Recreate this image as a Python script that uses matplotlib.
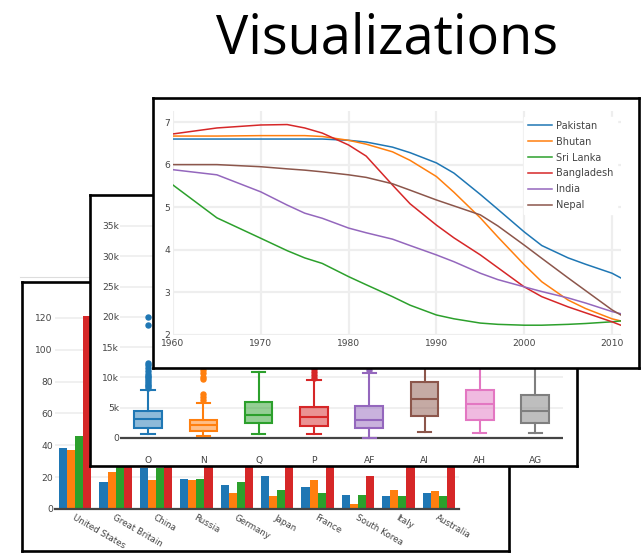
import matplotlib
matplotlib.use('Agg')
import matplotlib.pyplot as plt
from matplotlib.lines import Line2D

plt.rcParams['font.family'] = ['DejaVu Sans']

# ---- data: fertility rate (line chart) ----
years = [1960, 1965, 1970, 1973, 1975, 1977, 1980, 1982, 1985, 1987,
         1990, 1992, 1995, 1997, 2000, 2002, 2005, 2007, 2010, 2011]
pakistan = [6.60, 6.60, 6.60, 6.60, 6.60, 6.60, 6.57, 6.53, 6.41, 6.28,
            6.04, 5.80, 5.30, 4.95, 4.42, 4.10, 3.81, 3.66, 3.45, 3.34]
bhutan = [6.67, 6.67, 6.68, 6.68, 6.68, 6.66, 6.57, 6.48, 6.30, 6.10,
          5.72, 5.35, 4.75, 4.30, 3.65, 3.25, 2.82, 2.62, 2.38, 2.33]
sri_lanka = [5.52, 4.75, 4.27, 3.98, 3.81, 3.68, 3.37, 3.18, 2.90, 2.70,
             2.47, 2.38, 2.28, 2.25, 2.23, 2.23, 2.25, 2.27, 2.31, 2.33]
bangladesh = [6.72, 6.86, 6.93, 6.94, 6.86, 6.74, 6.46, 6.20, 5.52, 5.08,
              4.58, 4.28, 3.88, 3.58, 3.13, 2.90, 2.66, 2.52, 2.31, 2.23]
india = [5.88, 5.76, 5.36, 5.05, 4.86, 4.74, 4.51, 4.40, 4.25, 4.10,
         3.88, 3.72, 3.45, 3.30, 3.13, 3.02, 2.87, 2.75, 2.55, 2.50]
nepal = [6.00, 6.00, 5.95, 5.90, 5.87, 5.83, 5.76, 5.70, 5.55, 5.40,
         5.17, 5.03, 4.82, 4.56, 4.11, 3.80, 3.34, 3.04, 2.59, 2.47]
line_names = ['Pakistan', 'Bhutan', 'Sri Lanka', 'Bangladesh', 'India', 'Nepal']

# ---- data: box plot (values in thousands) ----
box_labels = ['O', 'N', 'Q', 'P', 'AF', 'AI', 'AH', 'AG']
box_low = [0.6, 0.3, 0.6, 0.6, 0.05, 1.0, 0.9, 0.9]
box_q1 = [1.7, 1.2, 2.4, 2.0, 1.6, 3.6, 3.0, 2.5]
box_med = [3.1, 2.1, 3.8, 3.4, 3.0, 6.5, 5.6, 4.5]
box_q3 = [4.45, 3.0, 6.0, 5.1, 5.2, 9.2, 8.0, 7.1]
box_high = [7.9, 5.7, 10.9, 9.5, 10.7, 14.5, 13.5, 12.5]
box_out = [
    [8.2, 8.5, 8.8, 9.1, 9.4, 9.7, 10.0, 10.3, 10.6, 11.0, 11.6, 12.0, 12.3, 18.6, 20.0],
    [6.2, 6.7, 7.2, 9.7, 10.0, 10.8, 11.2],
    [],
    [9.9, 10.4, 10.9, 11.4, 12.5, 14.0],
    [11.2, 12.0, 14.0],
    [], [], [],
]

# ---- data: medals (bar chart) ----
countries = ['United States', 'Great Britain', 'China', 'Russia', 'Germany',
             'Japan', 'France', 'South Korea', 'Italy', 'Australia']
bronze = [38, 17, 26, 19, 15, 21, 14, 9, 8, 10]
silver = [37, 23, 18, 18, 10, 8, 18, 3, 12, 11]
gold = [46, 27, 26, 19, 17, 12, 10, 9, 8, 8]
total = [121, 67, 70, 56, 42, 41, 42, 21, 28, 29]

colors = ['#1f77b4', '#ff7f0e', '#2ca02c', '#d62728',
          '#9467bd', '#8c564b', '#e377c2', '#7f7f7f']
tick_col = '#444444'
grid_col = '#eeeeee'

W, H = 641, 554
fig = plt.figure(figsize=(W / 100, H / 100), dpi=100)


def px_axes(x0, y0, x1, y1, z):
    return fig.add_axes([x0 / W, 1 - y1 / H, (x1 - x0) / W, (y1 - y0) / H], zorder=z)


def panel(x0, y0, x1, y1, z):
    p = px_axes(x0, y0, x1, y1, z)
    p.set_xticks([])
    p.set_yticks([])
    p.set_facecolor('white')
    for s in p.spines.values():
        s.set_linewidth(1.9)
        s.set_color('black')
    return p


def clean(ax):
    for s in ax.spines.values():
        s.set_visible(False)
    ax.set_facecolor('none')
    ax.tick_params(length=0, labelsize=6.6, labelcolor=tick_col)


fig.text(386.5 / W, 1 - 53 / H, 'Visualizations', fontsize=39, family='Open Sans',
         ha='center', va='baseline', color='black')

# faint edge of a card peeking out behind the bar chart
fig.add_artist(Line2D([20 / W, 89 / W], [1 - 277 / H, 1 - 277 / H],
                      color='#dddddd', lw=0.8))

# ---- bar chart panel (back) ----
panel(21.5, 281.5, 509, 551, 1)
ax1 = px_axes(55, 306.6, 459, 509, 2)
clean(ax1)
xs = range(len(countries))
w = 0.2
for k, vals in enumerate([bronze, silver, gold, total]):
    ax1.bar([x + (k - 1.5) * w for x in xs], vals, width=w, color=colors[k], zorder=3)
ax1.set_xlim(-0.5, 9.5)
ax1.set_ylim(0, 127)
ax1.set_yticks([0, 20, 40, 60, 80, 100, 120])
ax1.yaxis.grid(True, color=grid_col, lw=1.2)
ax1.axhline(0, color=tick_col, lw=1.6, clip_on=False, zorder=4)
ax1.set_xticks(list(xs))
ax1.set_xticklabels(countries, rotation=-30, ha='left', va='top',
                    rotation_mode='anchor', fontsize=6.3)
ax1.tick_params(axis='x', pad=3)
ax1.tick_params(axis='y', pad=1.5)

# ---- box plot panel (middle) ----
panel(89.5, 195.5, 577, 466, 3)
ax2 = px_axes(120.4, 204.7, 562.8, 439.8, 4)
clean(ax2)
stats = []
for i in range(len(box_labels)):
    stats.append(dict(med=box_med[i], q1=box_q1[i], q3=box_q3[i],
                      whislo=box_low[i], whishi=box_high[i], fliers=box_out[i]))
bp = ax2.bxp(stats, positions=range(len(box_labels)), widths=0.5, capwidths=0.24,
             patch_artist=True, manage_ticks=False)
for i in range(len(box_labels)):
    c = colors[i]
    bp['boxes'][i].set(facecolor=matplotlib.colors.to_rgba(c, 0.5), edgecolor=c, lw=1.5)
    bp['medians'][i].set(color=c, lw=1.5)
    for j in (2 * i, 2 * i + 1):
        bp['whiskers'][j].set(color=c, lw=1.5)
        bp['caps'][j].set(color=c, lw=1.5)
    bp['fliers'][i].set(marker='o', markerfacecolor=c, markeredgecolor=c, markersize=3.6)
ax2.set_xlim(-0.5, 7.5)
ax2.set_ylim(-0.3, 38.5)
ax2.set_yticks([0, 5, 10, 15, 20, 25, 30, 35])
ax2.set_yticklabels(['0', '5k', '10k', '15k', '20k', '25k', '30k', '35k'])
ax2.yaxis.grid(True, color=grid_col, lw=1.2)
ax2.set_axisbelow(True)
ax2.axhline(0, color=tick_col, lw=1.6, zorder=1)
ax2.set_xticks(range(len(box_labels)))
ax2.set_xticklabels(box_labels)
ax2.tick_params(axis='x', pad=12)
ax2.tick_params(axis='y', pad=1)

# ---- line chart panel (front) ----
panel(153, 97.5, 639, 368, 5)
ax3 = px_axes(173, 111.35, 620.8, 335, 6)
clean(ax3)
for k, vals in enumerate([pakistan, bhutan, sri_lanka, bangladesh, india, nepal]):
    ax3.plot(years, vals, color=colors[k], lw=1.1, label=line_names[k])
ax3.set_xlim(1960, 2011)
ax3.set_ylim(2, 7.25)
ax3.set_xticks([1960, 1970, 1980, 1990, 2000, 2010])
ax3.set_yticks([2, 3, 4, 5, 6, 7])
ax3.grid(True, color=grid_col, lw=1.6)
ax3.set_axisbelow(True)
ax3.tick_params(axis='x', pad=3)
ax3.tick_params(axis='y', pad=2)
leg = ax3.legend(loc='upper left', bbox_to_anchor=(524 / W, 1 - 117 / H),
                 bbox_transform=fig.transFigure, fontsize=7, frameon=True,
                 facecolor='white', edgecolor='white', framealpha=1,
                 handlelength=2.5, handletextpad=0.35, labelspacing=0.6,
                 borderpad=0.4, borderaxespad=0, fancybox=False)
for t in leg.get_texts():
    t.set_color(tick_col)

fig.savefig('out.png', dpi=100)
